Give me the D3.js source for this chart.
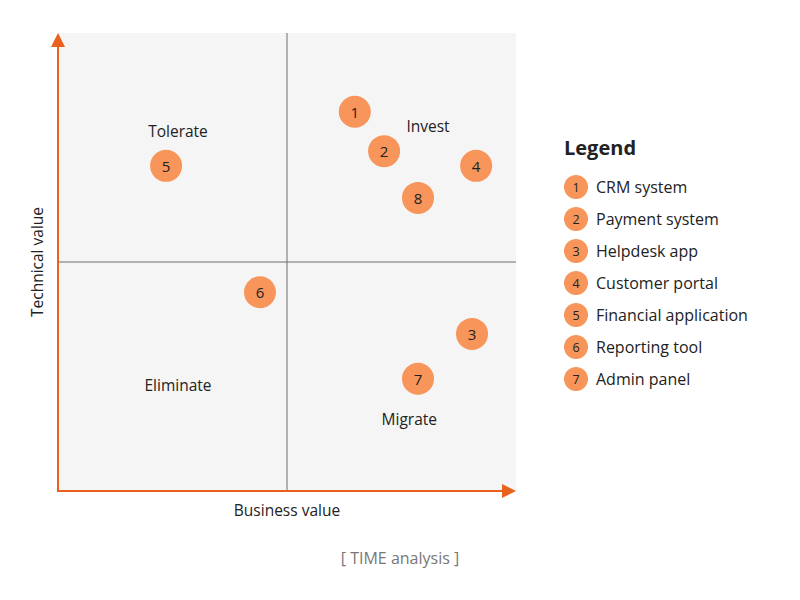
<!DOCTYPE html>
<html><head><meta charset="utf-8">
<script src="https://cdn.jsdelivr.net/npm/d3@7"></script>
<style>body{margin:0;background:#fff;} text{font-family:"Open Sans", "Noto Sans", sans-serif;}</style>
</head><body>
<svg id="c" width="800" height="600"></svg>
<script>
const ids = [1,2,3,4,5,6,7,8];
const businessValue = [6.48,7.12,9.04,9.13,2.36,4.41,7.86,7.86];
const technicalValue = [8.28,7.42,3.43,7.10,7.10,4.34,2.45,6.40];
const legendIds = [1,2,3,4,5,6,7];
const legendNames = ["CRM system","Payment system","Helpdesk app","Customer portal","Financial application","Reporting tool","Admin panel"];
const quadrantNames = ["Tolerate","Invest","Eliminate","Migrate"];
const quadrantX = [2.62,8.08,2.62,7.67];
const quadrantY = [7.85,7.96,2.31,1.57];

const svg = d3.select("#c");
const L=58,R=516,T=33,B=491;
const x = d3.scaleLinear().domain([0,10]).range([L,R]);
const y = d3.scaleLinear().domain([0,10]).range([B,T]);
const orange="#e8621d", fill="#f7955a";

svg.append("rect").attr("x",L).attr("y",T).attr("width",R-L).attr("height",B-T).attr("fill","#f5f5f5");
svg.append("line").attr("x1",x(5)).attr("x2",x(5)).attr("y1",T).attr("y2",B).attr("stroke","#6f6f6f").attr("stroke-width",1);
svg.append("line").attr("x1",L).attr("x2",R).attr("y1",y(5)).attr("y2",y(5)).attr("stroke","#6f6f6f").attr("stroke-width",1);

// axes
svg.append("line").attr("x1",L).attr("x2",L).attr("y1",B+1).attr("y2",T+12).attr("stroke",orange).attr("stroke-width",2);
svg.append("line").attr("x1",L-1).attr("x2",R-12).attr("y1",B).attr("y2",B).attr("stroke",orange).attr("stroke-width",2);
svg.append("path").attr("d",`M${L},${T} L${L-7},${T+14} L${L+7},${T+14} Z`).attr("fill",orange);
svg.append("path").attr("d",`M${R},${B} L${R-14},${B-7} L${R-14},${B+7} Z`).attr("fill",orange);

svg.append("text").attr("x",x(5)).attr("y",B+19).attr("text-anchor","middle").attr("dominant-baseline","central").attr("font-size",15.5).attr("fill","#222").text("Business value");
svg.append("text").attr("transform",`translate(${L-21},${y(5)}) rotate(-90)`).attr("text-anchor","middle").attr("dominant-baseline","central").attr("font-size",15.5).attr("fill","#222").text("Technical value");

svg.selectAll(".q").data(quadrantNames).join("text").attr("class","q")
 .attr("x",(d,i)=>x(quadrantX[i])).attr("y",(d,i)=>y(quadrantY[i])).attr("text-anchor","middle").attr("dominant-baseline","central")
 .attr("font-size",15.5).attr("fill","#222").text(d=>d);

const pts = svg.selectAll(".p").data(ids).join("g").attr("class","p")
 .attr("transform",(d,i)=>`translate(${x(businessValue[i])},${y(technicalValue[i])})`);
pts.append("circle").attr("r",16).attr("fill",fill);
pts.append("text").attr("text-anchor","middle").attr("dominant-baseline","central").attr("font-size",15).attr("fill","#222").text(d=>d);

svg.append("text").attr("x",564).attr("y",147).attr("dominant-baseline","central").attr("font-size",20).attr("font-weight","bold").attr("fill","#222").text("Legend");
const lg = svg.selectAll(".l").data(legendIds).join("g").attr("class","l").attr("transform",(d,i)=>`translate(576,${187+i*32})`);
lg.append("circle").attr("r",12).attr("fill",fill);
lg.append("text").attr("text-anchor","middle").attr("dominant-baseline","central").attr("font-size",12.5).attr("fill","#222").text(d=>d);
lg.append("text").attr("x",20).attr("dominant-baseline","central").attr("font-size",16).attr("fill","#222").text((d,i)=>legendNames[i]);

svg.append("text").attr("x",400).attr("y",558).attr("text-anchor","middle").attr("dominant-baseline","central").attr("font-size",16).attr("fill","#777").text("[ TIME analysis ]");
</script>
</body></html>
